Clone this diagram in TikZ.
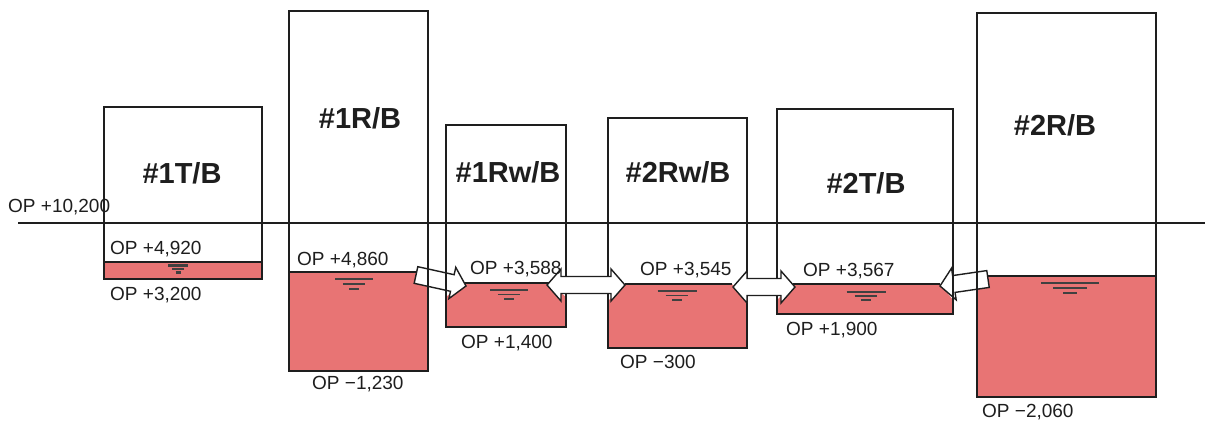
\documentclass[tikz,border=0pt]{standalone}
\usepackage{fontspec}
\setmainfont{Liberation Sans}
\usetikzlibrary{calc}
\definecolor{water}{RGB}{232,116,116}
\definecolor{ink}{RGB}{30,30,30}
\tikzset{
  bldg/.style={draw=ink, line width=1.6pt, inner sep=0pt, outer sep=0pt},
  title/.style={font=\fontsize{29}{32}\selectfont\bfseries, text=ink, inner sep=0pt},
  oplabel/.style={font=\fontsize{19}{21}\selectfont, text=ink, inner sep=0pt, anchor=west},
  arrowbox/.style={draw=ink, fill=white, line width=1.4pt, line join=miter},
  surface/.style={draw=ink, line width=1.5pt},
  levelline/.style={draw=ink!85, line width=1.4pt}
}
\newcommand\blockSingle[3]{% name, tail, tip
  \coordinate (#1-b) at ($(#3)!14pt!(#2)$);
  \draw[arrowbox] ($(#2)!8.5pt!90:(#3)$) -- ($(#1-b)!8.5pt!90:(#3)$) -- ($(#1-b)!16pt!90:(#3)$) -- (#3)
     -- ($(#1-b)!16pt!-90:(#3)$) -- ($(#1-b)!8.5pt!-90:(#3)$) -- ($(#2)!8.5pt!-90:(#3)$) -- cycle;
}
\newcommand\blockDouble[3]{% name, end a, end b
  \coordinate (#1-a) at ($(#2)!14pt!(#3)$);
  \coordinate (#1-b) at ($(#3)!14pt!(#2)$);
  \draw[arrowbox] (#2) -- ($(#1-a)!16pt!90:(#3)$) -- ($(#1-a)!8.5pt!90:(#3)$) -- ($(#1-b)!8.5pt!90:(#3)$)
     -- ($(#1-b)!16pt!90:(#3)$) -- (#3) -- ($(#1-b)!16pt!-90:(#3)$) -- ($(#1-b)!8.5pt!-90:(#3)$)
     -- ($(#1-a)!8.5pt!-90:(#3)$) -- ($(#1-a)!16pt!-90:(#3)$) -- cycle;
}
\newcommand\wlevel[4]{% cx, top, width, gap
  \draw[levelline] ({#1-#3/2},{#2+7}) -- ({#1+#3/2},{#2+7});
  \draw[levelline] ({#1-#3*0.29},{#2+7+#4}) -- ({#1+#3*0.29},{#2+7+#4});
  \draw[levelline] ({#1-#3*0.12},{#2+7+2*#4}) -- ({#1+#3*0.12},{#2+7+2*#4});
}
\begin{document}
\begin{tikzpicture}[x=1pt,y=-1pt]
\useasboundingbox[fill=white] (0,0) rectangle (1205,424);

% ---- water bodies
\fill[water] (104,262) rectangle (262,279);
\fill[water] (289,272) rectangle (428,371);
\fill[water] (446,297) -- (463,283) -- (549,283) -- (566,297) -- (566,327) -- (446,327) -- cycle;
\fill[water] (608,301) -- (625,284) -- (732,284) -- (747,300) -- (747,348) -- (608,348) -- cycle;
\fill[water] (777,300) -- (793,284) -- (940,284) -- (953,300) -- (953,314) -- (777,314) -- cycle;
\fill[water] (977,276) rectangle (1156,397);

% ---- water surfaces
\draw[surface] (104,262) -- (262,262);
\draw[surface] (289,272) -- (428,272);
\draw[surface] (463,283) -- (549,283);
\draw[surface] (625,284) -- (732,284);
\draw[surface] (793,284) -- (940,284);
\draw[surface] (977,276) -- (1156,276);

% ---- water level marks
\draw[ink!85, line width=2.6pt] (168,265.5) -- (188,265.5);
\draw[ink!85, line width=2.6pt] (172,269) -- (184,269);
\draw[ink!85, line width=2.6pt] (175.5,272.5) -- (180.5,272.5);
\wlevel{354}{272}{38}{5}
\wlevel{509}{283}{38}{4.5}
\wlevel{677}{284}{39}{4.5}
\wlevel{866}{285}{39}{4}
\wlevel{1070}{276}{58}{5}

% ---- single block arrows (under the walls)
\coordinate (a1t) at (416,275);
\coordinate (a1h) at (466,286);
\blockSingle{a1}{a1t}{a1h}
\coordinate (a4t) at (988,279);
\coordinate (a4h) at (940,286);
\blockSingle{a4}{a4t}{a4h}

% ---- buildings
\node[bldg, minimum width=158pt, minimum height=172pt] (t1)  at (183,193) {};
\node[bldg, minimum width=139pt, minimum height=360pt] (r1)  at (358.5,191) {};
\node[bldg, minimum width=120pt, minimum height=202pt] (rw1) at (506,226) {};
\node[bldg, minimum width=139pt, minimum height=230pt] (rw2) at (677.5,233) {};
\node[bldg, minimum width=176pt, minimum height=205pt] (t2)  at (865,211.5) {};
\node[bldg, minimum width=179pt, minimum height=384pt] (r2)  at (1066.5,205) {};

% ---- reference level line
\coordinate (lvlL) at (18,223);
\coordinate (lvlR) at (1205,223);
\draw[ink, line width=1.6pt] (lvlL) -- (lvlR);

% ---- double block arrows (over the walls)
\coordinate (a2l) at (547,285);
\coordinate (a2r) at (625,285);
\blockDouble{a2}{a2l}{a2r}
\coordinate (a3l) at (733,287);
\coordinate (a3r) at (795,287);
\blockDouble{a3}{a3l}{a3r}

% ---- titles
\node[title] (nt1)  at (182,173) {\#1T/B};
\node[title] (nr1)  at (360,118) {\#1R/B};
\node[title] (nrw1) at (508,172) {\#1Rw/B};
\node[title] (nrw2) at (678,172) {\#2Rw/B};
\node[title] (nt2)  at (866,183) {\#2T/B};
\node[title] (nr2)  at (1055,125) {\#2R/B};

% ---- levels
\node[oplabel] (l0)  at (8,207)   {OP +10,200};
\node[oplabel] (l1)  at (110,249) {OP +4,920};
\node[oplabel] (l2)  at (110,295) {OP +3,200};
\node[oplabel] (l3)  at (297,260) {OP +4,860};
\node[oplabel] (l4)  at (312,384) {OP −1,230};
\node[oplabel] (l5)  at (470,269) {OP +3,588};
\node[oplabel] (l6)  at (461,343) {OP +1,400};
\node[oplabel] (l7)  at (640,270) {OP +3,545};
\node[oplabel] (l8)  at (620,362) {OP −300};
\node[oplabel] (l9)  at (803,271) {OP +3,567};
\node[oplabel] (l10) at (786,330) {OP +1,900};
\node[oplabel] (l11) at (982,412) {OP −2,060};
\end{tikzpicture}
\end{document}
